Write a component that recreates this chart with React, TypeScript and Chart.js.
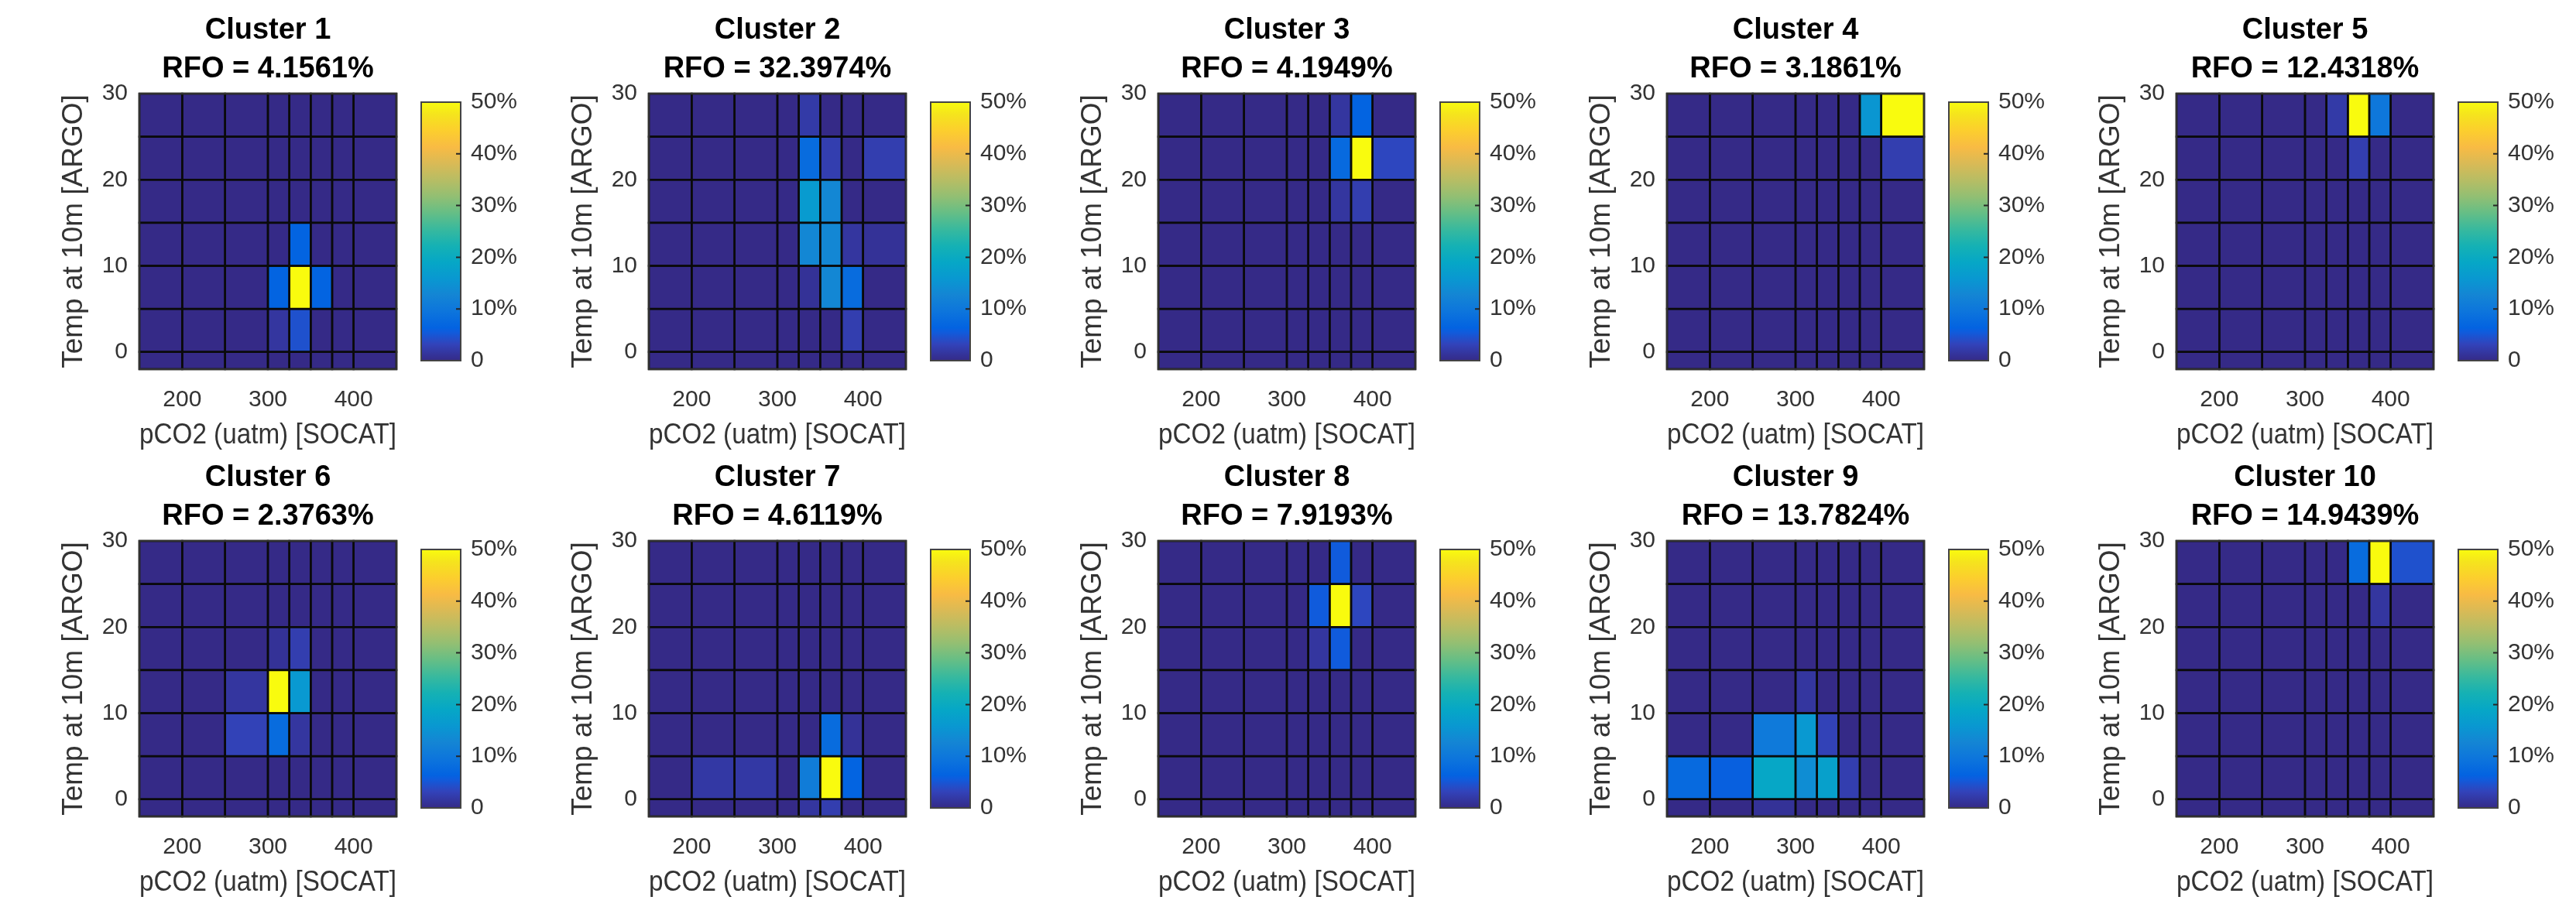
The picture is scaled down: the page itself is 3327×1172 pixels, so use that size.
import React, { useEffect, useRef } from 'react';
import { Chart, registerables } from 'chart.js';

Chart.register(...registerables);

// ---------------- data ----------------
const X_EDGES = [150, 200, 250, 300, 325, 350, 375, 400, 450];
const Y_EDGES = [-2, 0, 5, 10, 15, 20, 25, 30];
const X_TICKS = [200, 300, 400];
const Y_TICKS = [0, 10, 20, 30];
const CBAR_TICKS = [0, 10, 20, 30, 40, 50];
const CBAR_MAX = 50;

const CLUSTER_LABELS = [
  'Cluster 1', 'Cluster 2', 'Cluster 3', 'Cluster 4', 'Cluster 5',
  'Cluster 6', 'Cluster 7', 'Cluster 8', 'Cluster 9', 'Cluster 10',
];
const RFO_VALUES = [4.1561, 32.3974, 4.1949, 3.1861, 12.4318, 2.3763, 4.6119, 7.9193, 13.7824, 14.9439];

// Each matrix: rows from top (25–30) to bottom (-2–0); columns from 150 to 450 uatm. Values in %.
const CLUSTER_1 = [
  [0, 0, 0, 0, 0, 0, 0, 0],
  [0, 0, 0, 0, 0, 0, 0, 0],
  [0, 0, 0, 0, 0, 0, 0, 0],
  [0, 0, 0, 0, 6.5, 0, 0, 0],
  [0, 0, 0, 6.5, 60, 6.5, 0, 0],
  [0, 0, 0, 1.5, 4.5, 0, 0, 0],
  [0, 0, 0, 0, 0, 0, 0, 0],
];
const CLUSTER_2 = [
  [0, 0, 0, 0, 2, 0, 0, 0],
  [0, 0, 0, 0, 8, 2.5, 0, 2.5],
  [0, 0, 0, 0, 16.5, 13, 0, 0],
  [0, 0, 0, 0, 13, 13, 1.5, 1],
  [0, 0, 0, 0, 1, 13, 8, 0],
  [0, 0, 0, 0, 0, 0, 2.5, 0],
  [0, 0, 0, 0, 0, 0, 0, 0],
];
const CLUSTER_3 = [
  [0, 0, 0, 0, 0, 1.5, 6.5, 0],
  [0, 0, 0, 0, 0, 7.5, 70, 3.5],
  [0, 0, 0, 0, 0, 1.5, 2.5, 0],
  [0, 0, 0, 0, 0, 0, 0, 0],
  [0, 0, 0, 0, 0, 0, 0, 0],
  [0, 0, 0, 0, 0, 0, 0, 0],
  [0, 0, 0, 0, 0, 0, 0, 0],
];
const CLUSTER_4 = [
  [0, 0, 0, 0, 0, 0, 15.5, 80],
  [0, 0, 0, 0, 0, 0, 0, 2.5],
  [0, 0, 0, 0, 0, 0, 0, 0],
  [0, 0, 0, 0, 0, 0, 0, 0],
  [0, 0, 0, 0, 0, 0, 0, 0],
  [0, 0, 0, 0, 0, 0, 0, 0],
  [0, 0, 0, 0, 0, 0, 0, 0],
];
const CLUSTER_5 = [
  [0, 0, 0, 0, 2, 84, 10, 0],
  [0, 0, 0, 0, 0, 2.5, 0, 0],
  [0, 0, 0, 0, 0, 0, 0, 0],
  [0, 0, 0, 0, 0, 0, 0, 0],
  [0, 0, 0, 0, 0, 0, 0, 0],
  [0, 0, 0, 0, 0, 0, 0, 0],
  [0, 0, 0, 0, 0, 0, 0, 0],
];
const CLUSTER_6 = [
  [0, 0, 0, 0, 0, 0, 0, 0],
  [0, 0, 0, 0, 0, 0, 0, 0],
  [0, 0, 0, 1, 2.5, 0, 0, 0],
  [0, 0, 1.5, 66, 16, 0, 0, 0],
  [0, 0, 3, 8, 1.5, 0, 0, 0],
  [0, 0, 0, 0, 0, 0, 0, 0],
  [0, 0, 0, 0, 0, 0, 0, 0],
];
const CLUSTER_7 = [
  [0, 0, 0, 0, 0, 0, 0, 0],
  [0, 0, 0, 0, 0, 0, 0, 0],
  [0, 0, 0, 0, 0, 0, 0, 0],
  [0, 0, 0, 0, 0, 0, 0, 0],
  [0, 0, 0, 0, 0, 8, 1, 0],
  [0, 1.8, 1.8, 0, 11, 65, 6.5, 0],
  [0, 0, 0, 0, 1.5, 2.5, 0, 0],
];
const CLUSTER_8 = [
  [0, 0, 0, 0, 0, 5.5, 0, 0],
  [0, 0, 0, 0, 5.5, 77, 3.5, 0],
  [0, 0, 0, 0, 1.5, 5.5, 0, 0],
  [0, 0, 0, 0, 0, 0, 0, 0],
  [0, 0, 0, 0, 0, 0, 0, 0],
  [0, 0, 0, 0, 0, 0, 0, 0],
  [0, 0, 0, 0, 0, 0, 0, 0],
];
const CLUSTER_9 = [
  [0, 0, 0, 0, 0, 0, 0, 0],
  [0, 0, 0, 0, 0, 0, 0, 0],
  [0, 0, 0, 0, 0, 0, 0, 0],
  [0, 0, 0, 1.5, 0, 0, 0, 0],
  [0, 0, 10.5, 16, 3, 0, 0, 0],
  [7.5, 6, 19, 14, 17.5, 2.5, 0, 0],
  [0, 0, 1, 0, 0, 0, 0, 0],
];
const CLUSTER_10 = [
  [0, 0, 0, 0, 0, 8, 86, 4.5],
  [0, 0, 0, 0, 0, 0, 1.5, 0],
  [0, 0, 0, 0, 0, 0, 0, 0],
  [0, 0, 0, 0, 0, 0, 0, 0],
  [0, 0, 0, 0, 0, 0, 0, 0],
  [0, 0, 0, 0, 0, 0, 0, 0],
  [0, 0, 0, 0, 0, 0, 0, 0],
];
const CLUSTERS = [
  CLUSTER_1, CLUSTER_2, CLUSTER_3, CLUSTER_4, CLUSTER_5,
  CLUSTER_6, CLUSTER_7, CLUSTER_8, CLUSTER_9, CLUSTER_10,
];

// parula colormap stops (index / 63, rgb)
const PARULA_POS = [0, 4, 7, 8, 12, 16, 20, 24, 28, 32, 36, 40, 44, 48, 52, 56, 60, 63];
const PARULA_RGB = [
  [53, 42, 135], [50, 67, 186], [15, 92, 221], [3, 99, 225], [13, 117, 220], [20, 133, 212],
  [9, 152, 209], [6, 167, 198], [21, 177, 180], [56, 185, 158], [101, 190, 134], [146, 191, 115],
  [183, 189, 100], [217, 186, 86], [248, 187, 68], [252, 206, 46], [245, 228, 29], [249, 251, 14],
];

// ---------------- layout ----------------
const FONT = '"Liberation Sans", Arial, Helvetica, sans-serif';
const PLOT_LEFTS = [180, 838, 1496, 2153, 2811];
const PLOT_TOPS = [121, 699];
const PLOT_W = 332;
const PLOT_H = 356;
const Y_AXIS_W = 170;
const X_AXIS_H = 115;
const TITLE_H = 121;
const CBAR_OFFSET = 364;
const CBAR_W = 51;

function colorAt(v: number): string {
  const t = Math.max(0, Math.min(1, v / CBAR_MAX)) * 63;
  for (let i = 0; i < PARULA_POS.length - 1; i++) {
    const a = PARULA_POS[i], b = PARULA_POS[i + 1];
    if (t <= b) {
      const f = (t - a) / (b - a);
      const c0 = PARULA_RGB[i], c1 = PARULA_RGB[i + 1];
      const c = c0.map((x, k) => Math.round(x + (c1[k] - x) * f));
      return `rgb(${c[0]},${c[1]},${c[2]})`;
    }
  }
  const l = PARULA_RGB[PARULA_RGB.length - 1];
  return `rgb(${l[0]},${l[1]},${l[2]})`;
}

type Cell = { x: number; y: number; x0: number; x1: number; y0: number; y1: number; v: number };

function buildCells(matrix: number[][]): Cell[] {
  const cells: Cell[] = [];
  const nRows = Y_EDGES.length - 1;
  matrix.forEach((row, k) => {
    const yi = nRows - 1 - k;
    row.forEach((v, i) => {
      cells.push({
        x: (X_EDGES[i] + X_EDGES[i + 1]) / 2,
        y: (Y_EDGES[yi] + Y_EDGES[yi + 1]) / 2,
        x0: X_EDGES[i], x1: X_EDGES[i + 1],
        y0: Y_EDGES[yi], y1: Y_EDGES[yi + 1],
        v,
      });
    });
  });
  return cells;
}

const heatmapPlugin = {
  id: 'heatmapCells',
  beforeDatasetsDraw(chart: any) {
    const { ctx, chartArea: a, scales } = chart;
    const xs = scales.x, ys = scales.y;
    const cells: Cell[] = chart.data.datasets[0].data;
    ctx.save();
    cells.forEach((c) => {
      const px0 = xs.getPixelForValue(c.x0), px1 = xs.getPixelForValue(c.x1);
      const py0 = ys.getPixelForValue(c.y1), py1 = ys.getPixelForValue(c.y0);
      ctx.fillStyle = colorAt(c.v);
      ctx.fillRect(px0, py0, px1 - px0, py1 - py0);
    });
    ctx.strokeStyle = '#0a0a0a';
    ctx.lineWidth = 2.5;
    cells.forEach((c) => {
      const px0 = xs.getPixelForValue(c.x0), px1 = xs.getPixelForValue(c.x1);
      const py0 = ys.getPixelForValue(c.y1), py1 = ys.getPixelForValue(c.y0);
      ctx.strokeRect(px0, py0, px1 - px0, py1 - py0);
    });
    ctx.strokeStyle = '#303030';
    ctx.lineWidth = 2.5;
    ctx.strokeRect(a.left, a.top, a.right - a.left, a.bottom - a.top);
    ctx.restore();
  },
};

const colorbarPlugin = {
  id: 'colorbarFrame',
  afterDatasetsDraw(chart: any) {
    const { ctx, chartArea: a, scales } = chart;
    const ys = scales.y;
    ctx.save();
    ctx.strokeStyle = '#444';
    ctx.lineWidth = 2;
    ctx.strokeRect(a.left, a.top, a.right - a.left, a.bottom - a.top);
    ctx.strokeStyle = '#262626';
    ctx.lineWidth = 2;
    ctx.beginPath();
    CBAR_TICKS.forEach((v) => {
      if (v === 0 || v === CBAR_MAX) return;
      const p = ys.getPixelForValue(v);
      ctx.moveTo(a.right - 6, p);
      ctx.lineTo(a.right, p);
    });
    ctx.stroke();
    ctx.restore();
  },
};

function Panel({ index }: { index: number }) {
  const heatRef = useRef<HTMLCanvasElement>(null);
  const barRef = useRef<HTMLCanvasElement>(null);
  const col = index % 5;
  const row = Math.floor(index / 5);
  const plotLeft = PLOT_LEFTS[col];
  const plotTop = PLOT_TOPS[row];

  const heatLeft = plotLeft - Y_AXIS_W;
  const heatTop = plotTop - TITLE_H;
  const heatW = Y_AXIS_W + PLOT_W + 5;
  const heatH = TITLE_H + PLOT_H + X_AXIS_H;

  const barLeft = plotLeft + CBAR_OFFSET - 5;
  const barTop = plotTop - 20;
  const barW = 5 + CBAR_W + 80;
  const barH = 20 + PLOT_H + 20;

  useEffect(() => {
    const tickFont = { family: FONT, size: 30 };
    const labelFont = { family: FONT, size: 37, lineHeight: 1.2 };
    const heat = new Chart(heatRef.current as HTMLCanvasElement, {
      type: 'scatter',
      data: {
        datasets: [{ data: buildCells(CLUSTERS[index]) as any, pointRadius: 0, pointHoverRadius: 0, showLine: false }],
      },
      plugins: [heatmapPlugin],
      options: {
        animation: false,
        responsive: false,
        devicePixelRatio: 1,
        events: [],
        layout: { padding: { left: 0, right: 5, top: 0, bottom: 0 } },
        plugins: {
          legend: { display: false },
          tooltip: { enabled: false },
          title: {
            display: true,
            fullSize: false,
            text: [CLUSTER_LABELS[index], `RFO = ${RFO_VALUES[index].toFixed(4)}%`],
            color: '#000',
            font: { family: FONT, size: 38, weight: 'bold', lineHeight: 50 / 38 },
            padding: { top: 15, bottom: 6 },
          },
        },
        scales: {
          x: {
            type: 'linear',
            position: 'bottom',
            min: X_EDGES[0],
            max: X_EDGES[X_EDGES.length - 1],
            afterBuildTicks: (s: any) => { s.ticks = X_TICKS.map((v) => ({ value: v })); },
            afterFit: (s: any) => { s.height = X_AXIS_H; },
            grid: { display: false, drawTicks: false },
            border: { display: false },
            ticks: { font: tickFont, color: '#333', padding: 22, maxRotation: 0, autoSkip: false, callback: (v: any) => String(v) },
            title: { display: true, text: 'pCO2 (uatm) [SOCAT]', font: labelFont, color: '#333', padding: { top: 0, bottom: 7 } },
          },
          y: {
            type: 'linear',
            position: 'left',
            min: Y_EDGES[0],
            max: Y_EDGES[Y_EDGES.length - 1],
            afterBuildTicks: (s: any) => { s.ticks = Y_TICKS.map((v) => ({ value: v })); },
            afterFit: (s: any) => { s.width = Y_AXIS_W; },
            grid: { display: false, drawTicks: false },
            border: { display: false },
            ticks: { font: tickFont, color: '#333', padding: 15, autoSkip: false, callback: (v: any) => String(v) },
            title: { display: true, text: 'Temp at 10m [ARGO]', font: labelFont, color: '#333', padding: { top: 64, bottom: 0 } },
          },
        },
      } as any,
    });

    const bar = new Chart(barRef.current as HTMLCanvasElement, {
      type: 'bar',
      data: {
        labels: [''],
        datasets: [{
          data: [CBAR_MAX],
          barPercentage: 1,
          categoryPercentage: 1,
          borderWidth: 0,
          backgroundColor: (c: any) => {
            const a = c.chart.chartArea;
            if (!a) return colorAt(0);
            const g = c.chart.ctx.createLinearGradient(0, a.bottom, 0, a.top);
            PARULA_POS.forEach((p, i) => {
              const rgb = PARULA_RGB[i];
              g.addColorStop(p / 63, `rgb(${rgb[0]},${rgb[1]},${rgb[2]})`);
            });
            return g;
          },
        }],
      },
      plugins: [colorbarPlugin],
      options: {
        animation: false,
        responsive: false,
        devicePixelRatio: 1,
        events: [],
        layout: { padding: { left: 5, right: 0, top: 20, bottom: 20 } },
        plugins: { legend: { display: false }, tooltip: { enabled: false }, title: { display: false } },
        scales: {
          x: { display: false },
          y: {
            position: 'right',
            min: 0,
            max: CBAR_MAX,
            afterBuildTicks: (s: any) => { s.ticks = CBAR_TICKS.map((v) => ({ value: v })); },
            afterFit: (s: any) => { s.width = 80; },
            grid: { display: false, drawTicks: false },
            border: { display: false },
            ticks: { font: tickFont, color: '#333', padding: 13, autoSkip: false, callback: (v: any) => (v === 0 ? '0' : `${v}%`) },
          },
        },
      } as any,
    });

    return () => {
      heat.destroy();
      bar.destroy();
    };
  }, [index]);

  return (
    <>
      <canvas ref={heatRef} width={heatW} height={heatH} style={{ position: 'absolute', left: heatLeft, top: heatTop, width: heatW, height: heatH }} />
      <canvas ref={barRef} width={barW} height={barH} style={{ position: 'absolute', left: barLeft, top: barTop, width: barW, height: barH }} />
    </>
  );
}

export default function App() {
  return (
    <div style={{ position: 'absolute', left: 0, top: 0, width: 3327, height: 1172, background: '#fff', overflow: 'hidden' }}>
      {CLUSTERS.map((_, i) => (
        <Panel key={i} index={i} />
      ))}
    </div>
  );
}
